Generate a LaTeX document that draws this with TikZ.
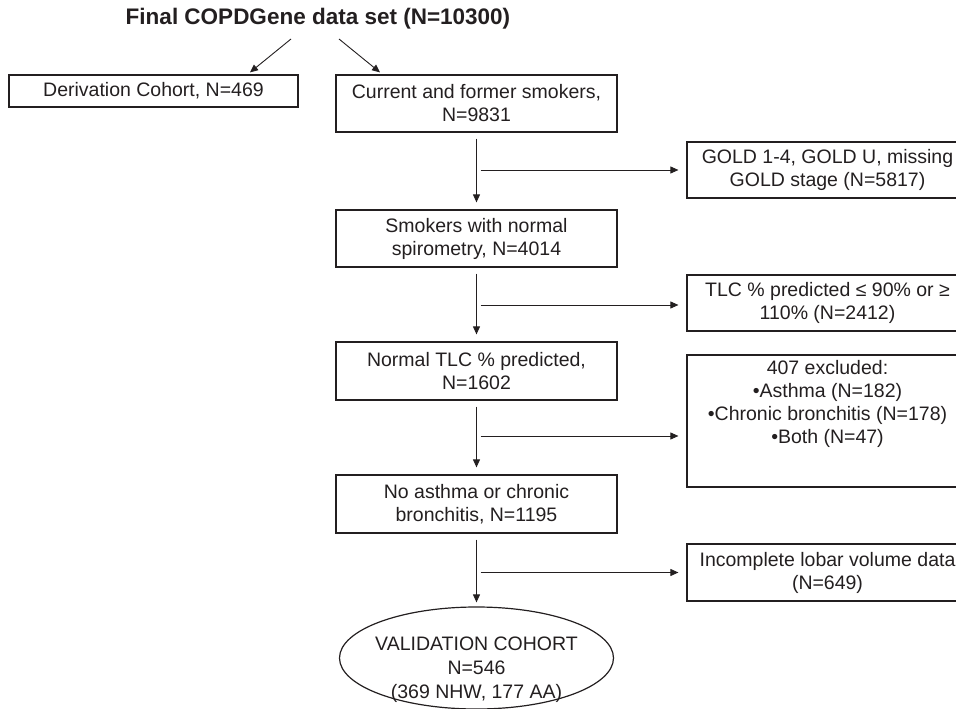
\documentclass[tikz,border=0pt]{standalone}
\usepackage{fontspec}
\setmainfont{Liberation Sans}
\usetikzlibrary{arrows.meta,shapes.geometric}
\definecolor{ink}{RGB}{35,31,32}
\begin{document}
\begin{tikzpicture}[x=1pt,y=-1pt,
  every node/.style={text=ink, font=\fontsize{19.5}{23}\selectfont},
  box/.style={draw=ink, line width=1.2pt, minimum width=281pt, inner sep=0pt, align=center},
  conn/.style={draw=ink, line width=0.9pt},
  arr/.style={conn, -{Triangle[length=8pt,width=7pt]}}]
\useasboundingbox (0,0) rectangle (956,709);
% title
\node[font=\bfseries\fontsize{22.5}{26}\selectfont] (title) at (318,19) {Final COPDGene data set (N=10300)};
% left column / main column
\node[box, minimum width=289pt, minimum height=32pt] (deriv) at (153.5,91) {Derivation Cohort, N=469};
\node[box, minimum height=57pt] (curr) at (476.5,103.5) {Current and former smokers,\\N=9831};
\node[box, minimum height=57pt] (smok) at (476.5,238.5) {Smokers with normal\\spirometry, N=4014};
\node[box, minimum height=58pt] (ntlc) at (476.5,371) {Normal TLC \% predicted,\\N=1602};
\node[box, minimum height=58pt] (noast) at (476.5,504) {No asthma or chronic\\bronchitis, N=1195};
\node[draw=ink, line width=1.2pt, ellipse, minimum width=274pt, minimum height=102pt, inner sep=0pt] (valid) at (476.5,658) {};
\node[align=center, font=\fontsize{19.5}{24}\selectfont] (validtext) at (476.5,670) {VALIDATION COHORT\\N=546\\(369 NHW, 177 AA)};
% right column
\node[box, minimum height=56pt] (gold) at (827.5,170) {GOLD 1-4, GOLD U, missing\\GOLD stage (N=5817)};
\node[box, minimum height=56pt] (tlcx) at (827.5,303) {TLC \% predicted ≤ 90\% or ≥\\110\% (N=2412)};
\node[box, minimum height=132pt] (excl) at (827.5,421) {};
\node[align=center, font=\fontsize{19.5}{23}\selectfont] (excltext) at (827.5,404) {407 excluded:\\•Asthma (N=182)\\•Chronic bronchitis (N=178)\\•Both (N=47)};
\node[box, minimum height=57pt] (incl) at (827.5,572.5) {Incomplete lobar volume data\\(N=649)};
% title arrows
\draw[arr] ([shift={(-27,20)}]title.center) -- ([shift={(96.5,-2)}]deriv.north);
\draw[arr] ([shift={(21,20)}]title.center) -- ([shift={(-96.5,-2)}]curr.north);
% main verticals
\draw[arr] ([shift={(0,6)}]curr.south) -- ([shift={(0,-7)}]smok.north);
\draw[arr] ([shift={(0,6)}]smok.south) -- ([shift={(0,-7)}]ntlc.north);
\draw[arr] ([shift={(0,6)}]ntlc.south) -- ([shift={(0,-7)}]noast.north);
\draw[arr] ([shift={(0,6)}]noast.south) -- ([shift={(0,-4)}]valid.north);
% branches
\path (curr.south |- gold.west) ++(4,0) coordinate (b1);
\draw[arr] (b1) -- ([shift={(-8,0)}]gold.west);
\path (smok.south |- tlcx.west) ++(4,2) coordinate (b2);
\draw[arr] (b2) -- ([shift={(-8,2)}]tlcx.west);
\path (ntlc.south |- excl.west) ++(4,15) coordinate (b3);
\draw[arr] (b3) -- ([shift={(-8,15)}]excl.west);
\path (noast.south |- incl.west) ++(4,0) coordinate (b4);
\draw[arr] (b4) -- ([shift={(-8,0)}]incl.west);
\end{tikzpicture}
\end{document}
